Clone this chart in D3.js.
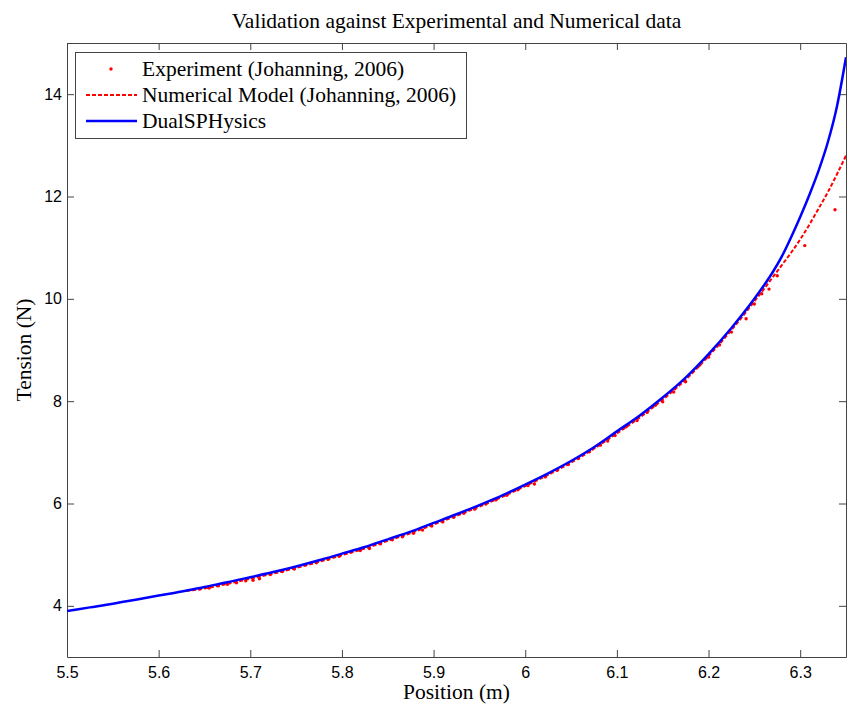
<!DOCTYPE html>
<html>
<head>
<meta charset="utf-8">
<script src="https://cdn.jsdelivr.net/npm/d3@7"></script>
<style>
  html, body { margin: 0; padding: 0; background: #fff; }
  svg { display: block; }
</style>
</head>
<body>
<svg id="chart" width="849" height="708"></svg>
<script>
// ---------- data ----------
const titleText = "Validation against Experimental and Numerical data";
const xLabel = "Position (m)";
const yLabel = "Tension (N)";
const xTicks = [5.5, 5.6, 5.7, 5.8, 5.9, 6.0, 6.1, 6.2, 6.3];
const xTickLabels = ["5.5", "5.6", "5.7", "5.8", "5.9", "6", "6.1", "6.2", "6.3"];
const yTicks = [4, 6, 8, 10, 12, 14];
const seriesNames = ["Experiment (Johanning, 2006)", "Numerical Model (Johanning, 2006)", "DualSPHysics"];

// DualSPHysics (blue solid)
const sphX = [5.50, 5.525, 5.55, 5.575, 5.60, 5.625, 5.65, 5.675, 5.70, 5.725, 5.75, 5.775, 5.80, 5.825, 5.85, 5.875, 5.90, 5.925, 5.95, 5.975, 6.00, 6.025, 6.05, 6.075, 6.10, 6.125, 6.15, 6.175, 6.20, 6.225, 6.25, 6.26, 6.27, 6.28, 6.29, 6.30, 6.31, 6.32, 6.33, 6.34, 6.35];
const sphY = [3.90, 3.97, 4.04, 4.12, 4.20, 4.28, 4.37, 4.46, 4.56, 4.66, 4.77, 4.89, 5.02, 5.15, 5.30, 5.45, 5.62, 5.79, 5.97, 6.16, 6.37, 6.59, 6.83, 7.10, 7.41, 7.72, 8.07, 8.46, 8.92, 9.43, 10.00, 10.25, 10.52, 10.83, 11.20, 11.60, 12.03, 12.50, 13.05, 13.75, 14.72];

// Numerical model (red dashed)
const numX = [5.63, 5.65, 5.675, 5.70, 5.725, 5.75, 5.775, 5.80, 5.825, 5.85, 5.875, 5.90, 5.925, 5.95, 5.975, 6.00, 6.025, 6.05, 6.075, 6.10, 6.125, 6.15, 6.175, 6.20, 6.225, 6.25, 6.26, 6.27, 6.28, 6.29, 6.30, 6.31, 6.32, 6.33, 6.34, 6.35];
const numY = [4.29, 4.34, 4.43, 4.53, 4.63, 4.74, 4.86, 4.99, 5.12, 5.27, 5.42, 5.59, 5.76, 5.94, 6.13, 6.34, 6.56, 6.80, 7.07, 7.37, 7.68, 8.03, 8.42, 8.88, 9.39, 9.95, 10.18, 10.42, 10.66, 10.90, 11.16, 11.45, 11.76, 12.08, 12.43, 12.80];

// Experiment (red dots)
const expX = [5.645, 5.655, 5.665, 5.675, 5.685, 5.695, 5.703, 5.710, 5.722, 5.735, 5.748, 5.760, 5.772, 5.785, 5.797, 5.810, 5.820, 5.830, 5.842, 5.855, 5.866, 5.878, 5.888, 5.898, 5.910, 5.922, 5.933, 5.945, 5.957, 5.968, 5.980, 5.992, 6.003, 6.010, 6.022, 6.035, 6.047, 6.058, 6.070, 6.082, 6.090, 6.098, 6.110, 6.122, 6.133, 6.142, 6.150, 6.162, 6.175, 6.190, 6.200, 6.212, 6.225, 6.241, 6.250, 6.258, 6.266, 6.275, 6.305, 6.338];
const expY = [4.33, 4.35, 4.39, 4.42, 4.45, 4.49, 4.50, 4.53, 4.61, 4.67, 4.72, 4.80, 4.84, 4.91, 4.97, 5.05, 5.08, 5.12, 5.21, 5.29, 5.35, 5.42, 5.48, 5.56, 5.64, 5.73, 5.81, 5.89, 5.99, 6.07, 6.16, 6.27, 6.35, 6.38, 6.52, 6.65, 6.76, 6.88, 7.01, 7.14, 7.22, 7.33, 7.50, 7.62, 7.78, 7.92, 7.99, 8.18, 8.38, 8.70, 8.86, 9.10, 9.35, 9.61, 9.90, 10.10, 10.19, 10.45, 11.04, 11.74];

// ---------- layout ----------
const svg = d3.select("#chart");
const pLeft = 67, pRight = 846, pTop = 43, pBottom = 657;
const x = d3.scaleLinear().domain([5.5, 6.35]).range([pLeft, pRight]);
const y = d3.scaleLinear().domain([3, 15]).range([pBottom, pTop]);
const axisColor = "#444";
const serif = "'Liberation Serif', 'Times New Roman', serif";
const sans = "'Liberation Sans', Arial, sans-serif";
const serifSize = "21.5px";

svg.append("clipPath").attr("id", "clip").append("rect")
  .attr("x", pLeft).attr("y", pTop).attr("width", pRight - pLeft).attr("height", pBottom - pTop);

// axes
function styleAxis(g) {
  g.selectAll("path.domain").attr("stroke", axisColor).attr("stroke-width", 1);
  g.selectAll(".tick line").attr("stroke", axisColor).attr("stroke-width", 1);
  g.selectAll(".tick text").attr("fill", "#000").style("font-family", sans).style("font-size", "16px");
}
const fmtX = (d) => xTickLabels[xTicks.indexOf(d)];
svg.append("g").attr("transform", `translate(0,${pBottom})`)
  .call(d3.axisBottom(x).tickValues(xTicks).tickFormat(fmtX).tickSizeInner(-7).tickSizeOuter(0).tickPadding(10))
  .call(styleAxis);
svg.append("g").attr("transform", `translate(0,${pTop})`)
  .call(d3.axisTop(x).tickValues(xTicks).tickFormat("").tickSizeInner(-7).tickSizeOuter(0))
  .call(styleAxis);
svg.append("g").attr("transform", `translate(${pLeft},0)`)
  .call(d3.axisLeft(y).tickValues(yTicks).tickFormat(d3.format("d")).tickSizeInner(-7).tickSizeOuter(0).tickPadding(5))
  .call(styleAxis);
svg.append("g").attr("transform", `translate(${pRight},0)`)
  .call(d3.axisRight(y).tickValues(yTicks).tickFormat("").tickSizeInner(-7).tickSizeOuter(0))
  .call(styleAxis);

// series
const plot = svg.append("g").attr("clip-path", "url(#clip)");
const line = d3.line().x(d => x(d[0])).y(d => y(d[1])).curve(d3.curveMonotoneX);
const numData = numX.map((v, i) => [v, numY[i]]);
const sphData = sphX.map((v, i) => [v, sphY[i]]);
const expData = expX.map((v, i) => [v, expY[i]]);

plot.selectAll("circle.exp").data(expData).enter().append("circle")
  .attr("class", "exp").attr("cx", d => x(d[0])).attr("cy", d => y(d[1])).attr("r", 1.7).attr("fill", "#ff0000");
plot.append("path").datum(numData).attr("d", line).attr("fill", "none")
  .attr("stroke", "#ff0000").attr("stroke-width", 2).attr("stroke-dasharray", "4,2");
plot.append("path").datum(sphData).attr("d", line).attr("fill", "none")
  .attr("stroke", "#0000ff").attr("stroke-width", 2.5);

// title & labels
svg.append("text").attr("x", (pLeft + pRight) / 2).attr("y", 28).attr("text-anchor", "middle")
  .style("font-family", serif).style("font-size", serifSize).text(titleText);
svg.append("text").attr("x", (pLeft + pRight) / 2).attr("y", 699).attr("text-anchor", "middle")
  .style("font-family", serif).style("font-size", serifSize).text(xLabel);
svg.append("text").attr("transform", `translate(31,${(pTop + pBottom) / 2}) rotate(-90)`).attr("text-anchor", "middle")
  .style("font-family", serif).style("font-size", serifSize).text(yLabel);

// legend
const lg = svg.append("g");
lg.append("rect").attr("x", 75.5).attr("y", 52.5).attr("width", 391).attr("height", 86)
  .attr("fill", "#fff").attr("stroke", axisColor).attr("stroke-width", 1);
const rowsY = [69, 95, 121];
seriesNames.forEach((name, i) => {
  const cy = rowsY[i];
  if (i === 0) {
    lg.append("circle").attr("cx", 111).attr("cy", cy).attr("r", 1.7).attr("fill", "#ff0000");
  } else if (i === 1) {
    lg.append("line").attr("x1", 86).attr("x2", 137).attr("y1", cy).attr("y2", cy)
      .attr("stroke", "#ff0000").attr("stroke-width", 2).attr("stroke-dasharray", "4,2");
  } else {
    lg.append("line").attr("x1", 86).attr("x2", 137).attr("y1", cy).attr("y2", cy)
      .attr("stroke", "#0000ff").attr("stroke-width", 2.5);
  }
  lg.append("text").attr("x", 142).attr("y", cy + 7)
    .style("font-family", serif).style("font-size", serifSize).text(name);
});
</script>
</body>
</html>
